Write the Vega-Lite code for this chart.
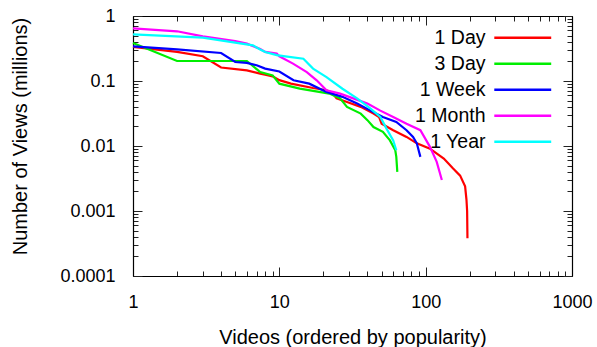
{
  "$schema": "https://vega.github.io/schema/vega-lite/v6.json",
  "width": 439,
  "height": 260,
  "autosize": {"type": "none"},
  "padding": {"left": 133, "top": 16, "right": 25, "bottom": 71},
  "background": "white",
  "config": {
    "view": {"stroke": null},
    "font": "Liberation Sans",
    "axis": {
      "domainColor": "black", "domainWidth": 1.2, "tickColor": "#222", "tickWidth": 1,
      "labelFont": "Liberation Sans", "labelFontSize": 18, "labelColor": "black",
      "titleFont": "Liberation Sans", "titleFontSize": 20, "titleFontWeight": "normal", "titleColor": "black",
      "grid": false, "labelFlush": false, "labelOverlap": false, "labelBound": false
    }
  },
  "data": {"values": [
    {"s": "1 Day", "n": 1, "v": 0.334}, {"s": "1 Day", "n": 2, "v": 0.28}, {"s": "1 Day", "n": 3, "v": 0.24}, {"s": "1 Day", "n": 4, "v": 0.161}, {"s": "1 Day", "n": 6, "v": 0.146}, {"s": "1 Day", "n": 7.4, "v": 0.13}, {"s": "1 Day", "n": 8, "v": 0.125}, {"s": "1 Day", "n": 9, "v": 0.118}, {"s": "1 Day", "n": 10, "v": 0.103}, {"s": "1 Day", "n": 12, "v": 0.091}, {"s": "1 Day", "n": 17, "v": 0.078}, {"s": "1 Day", "n": 21, "v": 0.072}, {"s": "1 Day", "n": 23, "v": 0.066}, {"s": "1 Day", "n": 24.6, "v": 0.054}, {"s": "1 Day", "n": 29, "v": 0.0475}, {"s": "1 Day", "n": 36, "v": 0.04}, {"s": "1 Day", "n": 44, "v": 0.0315}, {"s": "1 Day", "n": 48, "v": 0.028}, {"s": "1 Day", "n": 50, "v": 0.022}, {"s": "1 Day", "n": 60, "v": 0.0175}, {"s": "1 Day", "n": 74, "v": 0.0138}, {"s": "1 Day", "n": 87, "v": 0.011}, {"s": "1 Day", "n": 107, "v": 0.0091}, {"s": "1 Day", "n": 133, "v": 0.0064}, {"s": "1 Day", "n": 154, "v": 0.0045}, {"s": "1 Day", "n": 172, "v": 0.0035}, {"s": "1 Day", "n": 186, "v": 0.0024}, {"s": "1 Day", "n": 190, "v": 0.0015}, {"s": "1 Day", "n": 192, "v": 0.001}, {"s": "1 Day", "n": 193, "v": 0.00038},
    {"s": "3 Day", "n": 1, "v": 0.384}, {"s": "3 Day", "n": 2, "v": 0.203}, {"s": "3 Day", "n": 6, "v": 0.203}, {"s": "3 Day", "n": 7.4, "v": 0.137}, {"s": "3 Day", "n": 9, "v": 0.122}, {"s": "3 Day", "n": 10, "v": 0.091}, {"s": "3 Day", "n": 13.8, "v": 0.0764}, {"s": "3 Day", "n": 22, "v": 0.064}, {"s": "3 Day", "n": 26, "v": 0.054}, {"s": "3 Day", "n": 29, "v": 0.04}, {"s": "3 Day", "n": 36, "v": 0.0315}, {"s": "3 Day", "n": 40, "v": 0.025}, {"s": "3 Day", "n": 44, "v": 0.0196}, {"s": "3 Day", "n": 51, "v": 0.0165}, {"s": "3 Day", "n": 57, "v": 0.0122}, {"s": "3 Day", "n": 62, "v": 0.0086}, {"s": "3 Day", "n": 63, "v": 0.0068}, {"s": "3 Day", "n": 64, "v": 0.004},
    {"s": "1 Week", "n": 1, "v": 0.342}, {"s": "1 Week", "n": 2, "v": 0.307}, {"s": "1 Week", "n": 4, "v": 0.27}, {"s": "1 Week", "n": 5, "v": 0.196}, {"s": "1 Week", "n": 6, "v": 0.19}, {"s": "1 Week", "n": 7, "v": 0.175}, {"s": "1 Week", "n": 8, "v": 0.155}, {"s": "1 Week", "n": 10, "v": 0.14}, {"s": "1 Week", "n": 12.5, "v": 0.1025}, {"s": "1 Week", "n": 16, "v": 0.091}, {"s": "1 Week", "n": 21, "v": 0.068}, {"s": "1 Week", "n": 27, "v": 0.057}, {"s": "1 Week", "n": 34, "v": 0.045}, {"s": "1 Week", "n": 42, "v": 0.035}, {"s": "1 Week", "n": 51, "v": 0.028}, {"s": "1 Week", "n": 63, "v": 0.0235}, {"s": "1 Week", "n": 74, "v": 0.0175}, {"s": "1 Week", "n": 82, "v": 0.0138}, {"s": "1 Week", "n": 87, "v": 0.011}, {"s": "1 Week", "n": 92, "v": 0.0068},
    {"s": "1 Month", "n": 1, "v": 0.647}, {"s": "1 Month", "n": 2, "v": 0.582}, {"s": "1 Month", "n": 3, "v": 0.487}, {"s": "1 Month", "n": 5, "v": 0.412}, {"s": "1 Month", "n": 6, "v": 0.376}, {"s": "1 Month", "n": 7.4, "v": 0.31}, {"s": "1 Month", "n": 8, "v": 0.28}, {"s": "1 Month", "n": 9.6, "v": 0.264}, {"s": "1 Month", "n": 10, "v": 0.24}, {"s": "1 Month", "n": 12.4, "v": 0.185}, {"s": "1 Month", "n": 15.4, "v": 0.137}, {"s": "1 Month", "n": 18, "v": 0.1025}, {"s": "1 Month", "n": 21, "v": 0.072}, {"s": "1 Month", "n": 26, "v": 0.064}, {"s": "1 Month", "n": 32, "v": 0.054}, {"s": "1 Month", "n": 40, "v": 0.045}, {"s": "1 Month", "n": 49, "v": 0.035}, {"s": "1 Month", "n": 60, "v": 0.028}, {"s": "1 Month", "n": 74, "v": 0.022}, {"s": "1 Month", "n": 92, "v": 0.0175}, {"s": "1 Month", "n": 107, "v": 0.0097}, {"s": "1 Month", "n": 119, "v": 0.0057}, {"s": "1 Month", "n": 129, "v": 0.003},
    {"s": "1 Year", "n": 1, "v": 0.523}, {"s": "1 Year", "n": 3, "v": 0.465}, {"s": "1 Year", "n": 6.6, "v": 0.354}, {"s": "1 Year", "n": 7.4, "v": 0.305}, {"s": "1 Year", "n": 8, "v": 0.279}, {"s": "1 Year", "n": 9.6, "v": 0.25}, {"s": "1 Year", "n": 11, "v": 0.24}, {"s": "1 Year", "n": 14.6, "v": 0.22}, {"s": "1 Year", "n": 17, "v": 0.155}, {"s": "1 Year", "n": 21, "v": 0.115}, {"s": "1 Year", "n": 27, "v": 0.076}, {"s": "1 Year", "n": 34, "v": 0.054}, {"s": "1 Year", "n": 42, "v": 0.0376}, {"s": "1 Year", "n": 49, "v": 0.028}, {"s": "1 Year", "n": 54, "v": 0.0185}, {"s": "1 Year", "n": 60, "v": 0.0122}, {"s": "1 Year", "n": 63, "v": 0.0086}
  ]},
  "layer": [
    {
      "mark": {"type": "line", "strokeWidth": 2.2},
      "encoding": {
        "x": {"field": "n", "type": "quantitative",
          "scale": {"type": "log", "domain": [1, 1000], "nice": false},
          "axis": {"orient": "bottom", "title": "Videos (ordered by popularity)",
            "values": [1,2,3,4,5,6,7,8,9,10,20,30,40,50,60,70,80,90,100,200,300,400,500,600,700,800,900,1000],
            "labelExpr": "indexof([1,10,100,1000], datum.value) >= 0 ? '' + datum.value : ''",
            "tickSize": {"condition": {"test": "indexof([1,10,100,1000], datum.value) >= 0", "value": -9}, "value": -5},
            "labelPadding": 26, "titlePadding": 12}},
        "y": {"field": "v", "type": "quantitative",
          "scale": {"type": "log", "domain": [0.0001, 1], "nice": false},
          "axis": {"orient": "left", "title": "Number of Views (millions)",
            "values": [0.0001,0.0002,0.0003,0.0004,0.0005,0.0006,0.0007,0.0008,0.0009,0.001,0.002,0.003,0.004,0.005,0.006,0.007,0.008,0.009,0.01,0.02,0.03,0.04,0.05,0.06,0.07,0.08,0.09,0.1,0.2,0.3,0.4,0.5,0.6,0.7,0.8,0.9,1],
            "labelExpr": "indexof([0.0001,0.001,0.01,0.1,1], datum.value) >= 0 ? format(datum.value, '~g') : ''",
            "tickSize": {"condition": {"test": "indexof([0.0001,0.001,0.01,0.1,1], datum.value) >= 0", "value": -9}, "value": -5},
            "labelPadding": 27, "titleAngle": -90, "titleX": -113, "titleY": 120, "titleBaseline": "middle"}},
        "color": {"field": "s", "type": "nominal",
          "scale": {"domain": ["1 Day", "3 Day", "1 Week", "1 Month", "1 Year"], "range": ["#ff0000", "#00ee00", "#0000ff", "#ff00ff", "#00ffff"]},
          "legend": {"orient": "none", "legendX": 380, "legendY": 12, "title": null,
            "symbolType": "M-6,0H6", "symbolSize": 90, "symbolStrokeWidth": 2.5, "symbolFillColor": "transparent",
            "labelFont": "Liberation Sans", "labelFontSize": 19.5, "labelColor": "black",
            "labelAlign": "right", "labelOffset": -47, "rowPadding": 5}}
      }
    },
    {
      "mark": {"type": "line", "strokeOpacity": 0},
      "encoding": {
        "x": {"field": "n", "type": "quantitative",
          "axis": {"orient": "top", "title": null, "labels": false,
            "values": [1,2,3,4,5,6,7,8,9,10,20,30,40,50,60,70,80,90,100,200,300,400,500,600,700,800,900,1000],
            "tickSize": {"condition": {"test": "indexof([1,10,100,1000], datum.value) >= 0", "value": -9}, "value": -5}}},
        "y": {"field": "v", "type": "quantitative",
          "axis": {"orient": "right", "title": null, "labels": false,
            "values": [0.0001,0.0002,0.0003,0.0004,0.0005,0.0006,0.0007,0.0008,0.0009,0.001,0.002,0.003,0.004,0.005,0.006,0.007,0.008,0.009,0.01,0.02,0.03,0.04,0.05,0.06,0.07,0.08,0.09,0.1,0.2,0.3,0.4,0.5,0.6,0.7,0.8,0.9,1],
            "tickSize": {"condition": {"test": "indexof([0.0001,0.001,0.01,0.1,1], datum.value) >= 0", "value": -9}, "value": -5}}},
        "detail": {"field": "s", "type": "nominal"}
      }
    }
  ],
  "resolve": {"axis": {"x": "independent", "y": "independent"}}
}
